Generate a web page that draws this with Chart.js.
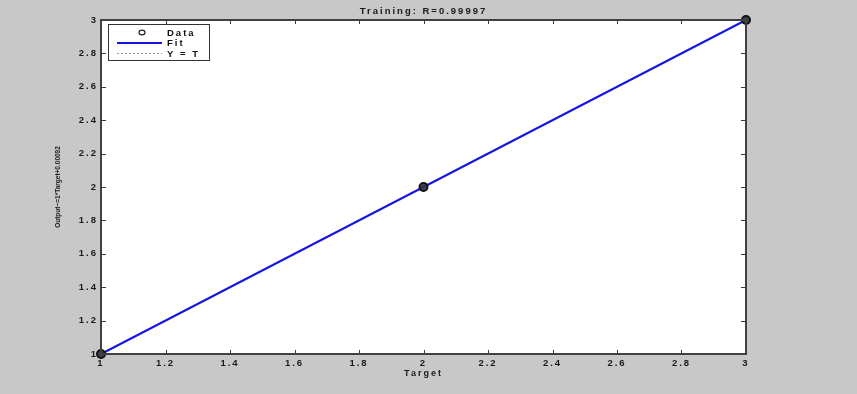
<!DOCTYPE html>
<html><head><meta charset="utf-8">
<script src="https://cdn.jsdelivr.net/npm/chart.js@4"></script>
<style>html,body{margin:0;padding:0;background:#c8c8c8;overflow:hidden}#c{display:block}</style>
</head><body>
<canvas id="c" width="857" height="394"></canvas>
<script>
const chartTitle = 'Training: R=0.99997';
const xAxisLabel = 'Target';
const yAxisLabel = 'Output~=1*Target+0.00092';
const targets = [1, 2, 3];
const outputs = [1, 2, 3];
const fitTargets = [1, 3];
const fitOutputs = [1, 3];
const identityTargets = [1, 3];
const identityOutputs = [1, 3];
const xTickValues = [1, 1.2, 1.4, 1.6, 1.8, 2, 2.2, 2.4, 2.6, 2.8, 3];
const yTickValues = [1, 1.2, 1.4, 1.6, 1.8, 2, 2.2, 2.4, 2.6, 2.8, 3];
const legendLabels = ['Data', 'Fit', 'Y = T'];

const toPoints = (xs, ys) => xs.map((x, i) => ({x: x, y: ys[i]}));
const FONT = '"Liberation Sans", Arial, sans-serif';
const SPACING = '2px';

const spacingPlugin = {
  id: 'spacing',
  beforeLayout(chart) { chart.ctx.letterSpacing = SPACING; },
  afterLayout(chart) {
    const ys = chart.scales.y;
    if (ys && !ys._patched) {
      const orig = Object.getPrototypeOf(ys).drawTitle;
      ys.drawTitle = function () {
        const c = this.ctx;
        const ls = c.letterSpacing;
        c.letterSpacing = '0px';
        orig.call(this);
        c.letterSpacing = ls;
      };
      ys._patched = true;
    }
  },
  beforeDraw(chart) { chart.ctx.letterSpacing = SPACING; }
};

const framePlugin = {
  id: 'frame',
  beforeDraw(chart) {
    const {ctx, chartArea: a} = chart;
    ctx.save();
    ctx.fillStyle = '#c8c8c8';
    ctx.fillRect(0, 0, chart.width, chart.height);
    ctx.fillStyle = '#ffffff';
    ctx.fillRect(a.left, a.top, a.right - a.left, a.bottom - a.top);
    ctx.restore();
  },
  afterDraw(chart) {
    const {ctx, chartArea: a} = chart;
    const xs = chart.scales.x, ys = chart.scales.y;
    ctx.save();
    ctx.strokeStyle = '#3a3a3a';
    ctx.lineWidth = 1;
    ctx.beginPath();
    xs.ticks.forEach(t => {
      const px = Math.round(xs.getPixelForValue(t.value)) + 0.5;
      ctx.moveTo(px, a.bottom); ctx.lineTo(px, a.bottom - 4);
      ctx.moveTo(px, a.top); ctx.lineTo(px, a.top + 4);
    });
    ys.ticks.forEach(t => {
      const py = Math.round(ys.getPixelForValue(t.value)) + 0.5;
      ctx.moveTo(a.left, py); ctx.lineTo(a.left + 5, py);
      ctx.moveTo(a.right, py); ctx.lineTo(a.right - 5, py);
    });
    ctx.stroke();
    ctx.lineWidth = 2;
    ctx.strokeStyle = '#404040';
    ctx.strokeRect(a.left, a.top, a.right - a.left, a.bottom - a.top);
    ctx.restore();
  }
};

const legendPlugin = {
  id: 'boxLegend',
  afterDatasetsDraw(chart) {
    const {ctx, chartArea: a} = chart;
    const x0 = a.left + 7, y0 = a.top + 4, w = 101, h = 36;
    ctx.save();
    ctx.letterSpacing = SPACING;
    ctx.fillStyle = '#ffffff';
    ctx.fillRect(x0, y0, w, h);
    ctx.strokeStyle = '#333333';
    ctx.lineWidth = 1;
    ctx.strokeRect(x0 + 0.5, y0 + 0.5, w, h);
    const ds = chart.data.datasets;
    ctx.font = 'bold 9.5px ' + FONT;
    ctx.textBaseline = 'middle';
    ds.forEach((d, i) => {
      const cy = y0 + 8.5 + i * 10.5;
      if (i === 0) {
        ctx.beginPath();
        ctx.strokeStyle = '#222';
        ctx.lineWidth = 1.2;
        ctx.ellipse(x0 + 34, cy, 3, 2.3, 0, 0, Math.PI * 2);
        ctx.stroke();
      } else {
        ctx.beginPath();
        ctx.strokeStyle = d.borderColor;
        ctx.lineWidth = d.borderWidth;
        ctx.setLineDash(d.borderDash || []);
        ctx.moveTo(x0 + 9, cy); ctx.lineTo(x0 + 54, cy);
        ctx.stroke();
        ctx.setLineDash([]);
      }
      ctx.fillStyle = '#111';
      ctx.fillText(d.label, x0 + 59, cy + 0.5);
    });
    ctx.restore();
  }
};

new Chart(document.getElementById('c'), {
  type: 'scatter',
  data: {
    datasets: [
      {
        label: legendLabels[0],
        data: toPoints(targets, outputs),
        showLine: false,
        pointStyle: 'circle',
        pointRadius: 4,
        pointBorderWidth: 2,
        pointBorderColor: '#111111',
        pointBackgroundColor: 'rgba(50,50,70,0.9)',
        borderColor: '#111111',
        order: 0,
        clip: false
      },
      {
        label: legendLabels[1],
        data: toPoints(fitTargets, fitOutputs),
        showLine: true,
        borderColor: '#1515e0',
        borderWidth: 2,
        pointRadius: 0,
        order: 1,
        clip: false
      },
      {
        label: legendLabels[2],
        data: toPoints(identityTargets, identityOutputs),
        showLine: true,
        borderColor: '#9a9a9a',
        borderWidth: 1,
        borderDash: [2, 2],
        pointRadius: 0,
        order: 2,
        clip: false
      }
    ]
  },
  options: {
    responsive: false,
    animation: false,
    devicePixelRatio: 1,
    events: [],
    layout: {padding: {top: 0, left: 0, right: 111, bottom: 0}},
    plugins: {
      legend: {display: false},
      tooltip: {enabled: false},
      title: {
        display: true,
        text: chartTitle,
        fullSize: false,
        color: '#1a1a1a',
        font: {family: FONT, size: 9.5, weight: 'bold'},
        padding: {top: 6, bottom: 2.6}
      }
    },
    scales: {
      x: {
        type: 'linear',
        min: 1, max: 3,
        afterBuildTicks: s => { s.ticks = xTickValues.map(v => ({value: v})); },
        afterFit: s => { s.height = 40; },
        grid: {display: false, drawTicks: false, tickLength: 0},
        border: {display: false},
        ticks: {
          color: '#1a1a1a',
          font: {family: FONT, size: 9.5, weight: 'bold'},
          padding: 4,
          maxRotation: 0,
          autoSkip: false,
          callback: v => String(v)
        },
        title: {
          display: true,
          text: xAxisLabel,
          color: '#1a1a1a',
          font: {family: FONT, size: 9, weight: 'bold'},
          padding: {top: 0, bottom: 15}
        }
      },
      y: {
        type: 'linear',
        min: 1, max: 3,
        afterBuildTicks: s => { s.ticks = yTickValues.map(v => ({value: v})); },
        afterFit: s => { s.width = 101; },
        grid: {display: false, drawTicks: false, tickLength: 0},
        border: {display: false},
        ticks: {
          color: '#1a1a1a',
          font: {family: FONT, size: 9.5, weight: 'bold'},
          padding: 3,
          autoSkip: false,
          callback: v => String(v)
        },
        title: {
          display: true,
          text: yAxisLabel,
          color: '#1a1a1a',
          font: {family: FONT, size: 6.5, weight: 'bold'},
          padding: {top: 54, bottom: 0}
        }
      }
    }
  },
  plugins: [spacingPlugin, framePlugin, legendPlugin]
});
</script>
</body></html>
